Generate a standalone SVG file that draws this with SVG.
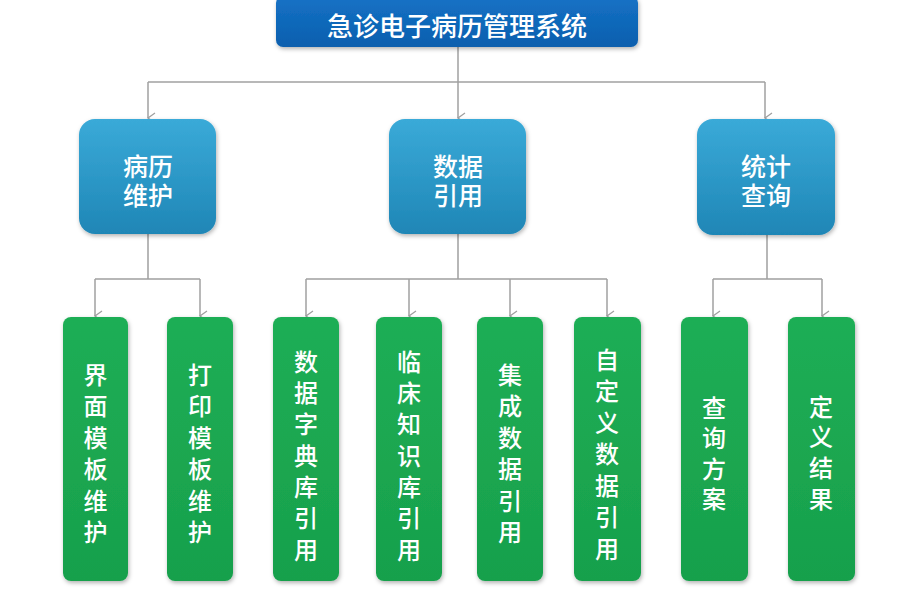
<svg xmlns="http://www.w3.org/2000/svg" width="898" height="600" viewBox="0 0 898 600">
<defs>
<linearGradient id="gBlue" x1="0" y1="0" x2="0" y2="1">
<stop offset="0" stop-color="#3aaad8"/>
<stop offset="1" stop-color="#1f86b6"/>
</linearGradient>
<linearGradient id="gTitle" x1="0" y1="0" x2="0" y2="1">
<stop offset="0" stop-color="#1572c6"/>
<stop offset="1" stop-color="#0b5fae"/>
</linearGradient>
<linearGradient id="gGreen" x1="0" y1="0" x2="0" y2="1">
<stop offset="0" stop-color="#1fae55"/>
<stop offset="1" stop-color="#17a04c"/>
</linearGradient>
<filter id="sh" x="-20%" y="-20%" width="140%" height="140%">
<feDropShadow dx="1" dy="2" stdDeviation="2" flood-color="#000" flood-opacity="0.3"/>
</filter>
<marker id="arr" markerWidth="12" markerHeight="12" refX="6" refY="10" orient="auto" markerUnits="userSpaceOnUse" viewBox="0 0 12 12">
<path d="M1,3 L6,10 L11,3" fill="none" stroke="#a0a0a0" stroke-width="1.3"/>
</marker>
</defs>
<style>
.t{font-family:"Noto Sans CJK SC","Noto Sans",sans-serif;fill:#ffffff;text-anchor:middle;dominant-baseline:central;font-weight:500}
.title{font-size:26px}
.mid{font-size:25px}
.leaf{font-size:24px}
.ln{fill:none;stroke:#a0a0a0;stroke-width:1.5}
</style>
<rect width="898" height="600" fill="#ffffff"/>
<g id="connectors">
<path class="ln" d="M458,47 V82"/>
<path class="ln" d="M148,82 H765"/>
<path class="ln" d="M148,82 V118" marker-end="url(#arr)"/>
<path class="ln" d="M458,82 V118" marker-end="url(#arr)"/>
<path class="ln" d="M765,82 V118" marker-end="url(#arr)"/>
<path class="ln" d="M148,234 V279 M95,279 H200"/>
<path class="ln" d="M95,279 V316" marker-end="url(#arr)"/>
<path class="ln" d="M200,279 V316" marker-end="url(#arr)"/>
<path class="ln" d="M458,234 V279 M306,279 H607"/>
<path class="ln" d="M306,279 V316" marker-end="url(#arr)"/>
<path class="ln" d="M409,279 V316" marker-end="url(#arr)"/>
<path class="ln" d="M510,279 V316" marker-end="url(#arr)"/>
<path class="ln" d="M607,279 V316" marker-end="url(#arr)"/>
<path class="ln" d="M767,235 V279 M713,279 H822"/>
<path class="ln" d="M713,279 V316" marker-end="url(#arr)"/>
<path class="ln" d="M822,279 V316" marker-end="url(#arr)"/>
</g>
<g id="root">
<rect x="276" y="-4" width="362" height="51" rx="7" fill="url(#gTitle)" filter="url(#sh)"/>
<text class="t title" x="457" y="24">急诊电子病历管理系统</text>
</g>
<g id="n-bingli">
<rect x="79" y="119" width="137" height="115" rx="16" fill="url(#gBlue)" filter="url(#sh)"/>
<text class="t mid" x="148" y="165">病历</text>
<text class="t mid" x="148" y="194">维护</text>
</g>
<g id="n-shuju">
<rect x="389" y="119" width="137" height="115" rx="16" fill="url(#gBlue)" filter="url(#sh)"/>
<text class="t mid" x="458" y="165">数据</text>
<text class="t mid" x="458" y="194">引用</text>
</g>
<g id="n-tongji">
<rect x="697" y="119" width="138" height="116" rx="16" fill="url(#gBlue)" filter="url(#sh)"/>
<text class="t mid" x="766" y="165">统计</text>
<text class="t mid" x="766" y="194">查询</text>
</g>
<g id="leaf1">
<rect x="63" y="317" width="65" height="264" rx="8" fill="url(#gGreen)" filter="url(#sh)"/>
<text class="t leaf" x="95.5" y="373">界</text>
<text class="t leaf" x="95.5" y="404.5">面</text>
<text class="t leaf" x="95.5" y="436">模</text>
<text class="t leaf" x="95.5" y="467.5">板</text>
<text class="t leaf" x="95.5" y="499">维</text>
<text class="t leaf" x="95.5" y="530">护</text>
</g>
<g id="leaf2">
<rect x="167" y="317" width="66" height="264" rx="8" fill="url(#gGreen)" filter="url(#sh)"/>
<text class="t leaf" x="200" y="373">打</text>
<text class="t leaf" x="200" y="404.5">印</text>
<text class="t leaf" x="200" y="436">模</text>
<text class="t leaf" x="200" y="467.5">板</text>
<text class="t leaf" x="200" y="499">维</text>
<text class="t leaf" x="200" y="530">护</text>
</g>
<g id="leaf3">
<rect x="273" y="317" width="66" height="264" rx="8" fill="url(#gGreen)" filter="url(#sh)"/>
<text class="t leaf" x="306" y="360">数</text>
<text class="t leaf" x="306" y="391.3">据</text>
<text class="t leaf" x="306" y="422.6">字</text>
<text class="t leaf" x="306" y="454">典</text>
<text class="t leaf" x="306" y="485.3">库</text>
<text class="t leaf" x="306" y="516.6">引</text>
<text class="t leaf" x="306" y="548">用</text>
</g>
<g id="leaf4">
<rect x="376" y="317" width="66" height="264" rx="8" fill="url(#gGreen)" filter="url(#sh)"/>
<text class="t leaf" x="409" y="360">临</text>
<text class="t leaf" x="409" y="391.3">床</text>
<text class="t leaf" x="409" y="422.6">知</text>
<text class="t leaf" x="409" y="454">识</text>
<text class="t leaf" x="409" y="485.3">库</text>
<text class="t leaf" x="409" y="516.6">引</text>
<text class="t leaf" x="409" y="548">用</text>
</g>
<g id="leaf5">
<rect x="477" y="317" width="66" height="264" rx="8" fill="url(#gGreen)" filter="url(#sh)"/>
<text class="t leaf" x="510" y="373">集</text>
<text class="t leaf" x="510" y="404.5">成</text>
<text class="t leaf" x="510" y="436">数</text>
<text class="t leaf" x="510" y="467.5">据</text>
<text class="t leaf" x="510" y="499">引</text>
<text class="t leaf" x="510" y="530">用</text>
</g>
<g id="leaf6">
<rect x="574" y="317" width="67" height="264" rx="8" fill="url(#gGreen)" filter="url(#sh)"/>
<text class="t leaf" x="607" y="358">自</text>
<text class="t leaf" x="607" y="389.5">定</text>
<text class="t leaf" x="607" y="421">义</text>
<text class="t leaf" x="607" y="452.5">数</text>
<text class="t leaf" x="607" y="484">据</text>
<text class="t leaf" x="607" y="515.5">引</text>
<text class="t leaf" x="607" y="547">用</text>
</g>
<g id="leaf7">
<rect x="681" y="317" width="67" height="264" rx="8" fill="url(#gGreen)" filter="url(#sh)"/>
<text class="t leaf" x="714" y="406">查</text>
<text class="t leaf" x="714" y="436.5">询</text>
<text class="t leaf" x="714" y="467">方</text>
<text class="t leaf" x="714" y="497.5">案</text>
</g>
<g id="leaf8">
<rect x="788" y="317" width="67" height="264" rx="8" fill="url(#gGreen)" filter="url(#sh)"/>
<text class="t leaf" x="821" y="405">定</text>
<text class="t leaf" x="821" y="435.5">义</text>
<text class="t leaf" x="821" y="466">结</text>
<text class="t leaf" x="821" y="497">果</text>
</g>
</svg>
